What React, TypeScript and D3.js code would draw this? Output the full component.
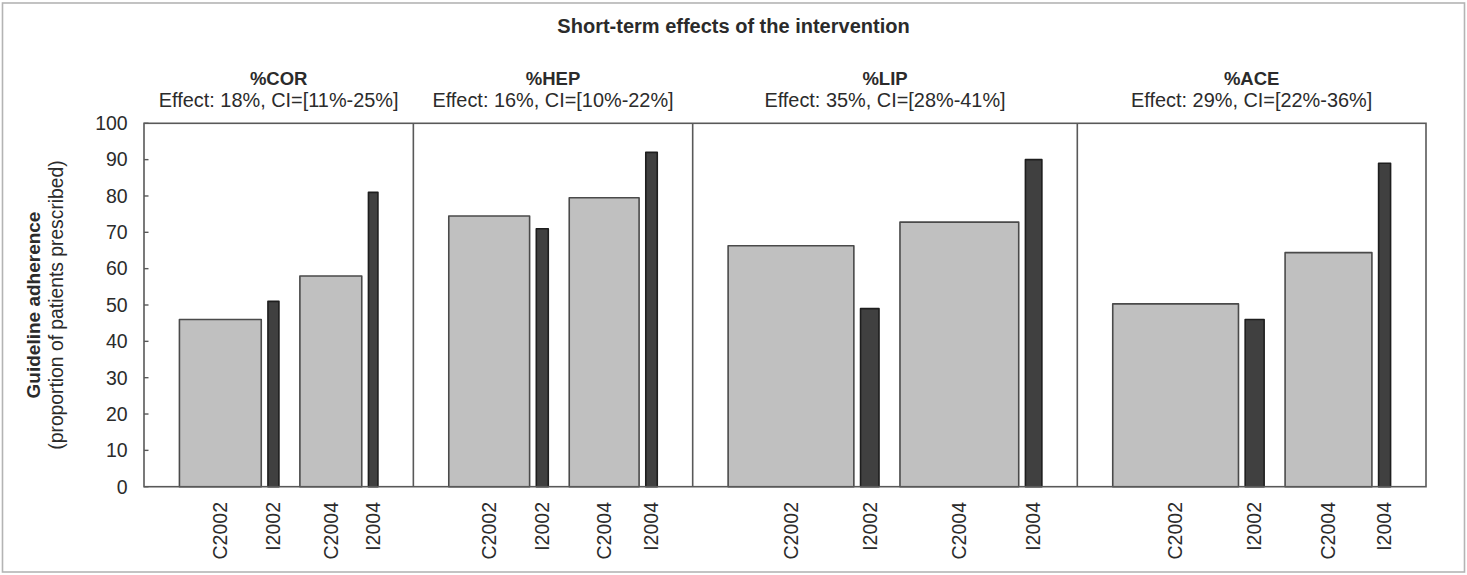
import React from "react";
import * as d3 from "d3";

// ---- data -------------------------------------------------------------
const chartTitle = "Short-term effects of the intervention";
const indicators = ["%COR", "%HEP", "%LIP", "%ACE"];
const effectLabels = [
  "Effect: 18%, CI=[11%-25%]",
  "Effect: 16%, CI=[10%-22%]",
  "Effect: 35%, CI=[28%-41%]",
  "Effect: 29%, CI=[22%-36%]",
];
const groups = ["C2002", "I2002", "C2004", "I2004"];

// adherence (% of patients prescribed) per group
const adherenceCOR = [46, 51, 58, 81];
const adherenceHEP = [74.5, 71, 79.5, 92];
const adherenceLIP = [66.3, 49, 72.8, 90];
const adherenceACE = [50.3, 46, 64.4, 89];

// relative bar widths (group size) per group
const widthCOR = [82, 11, 62, 9.5];
const widthHEP = [81, 12, 70, 11.5];
const widthLIP = [126, 18.5, 119, 16.5];
const widthACE = [126, 19, 87, 12];

const yTicks = d3.range(0, 101, 10);

const adherence = [adherenceCOR, adherenceHEP, adherenceLIP, adherenceACE];
const widths = [widthCOR, widthHEP, widthLIP, widthACE];

// ---- layout -----------------------------------------------------------
const W = 1467;
const H = 575;
const plot = { left: 144, right: 1426, top: 123.3, bottom: 486.7 };

// spacing in the same units as the bar widths
const OUTER_PAD = 35.5; // panel edge to first / last bar
const PAIR_GAP = 6.7; // control bar to intervention bar of the same year
const YEAR_GAP = 21; // between the two years

const FONT = "Arial, 'Liberation Sans', Helvetica, sans-serif";
const TEXT = "#2b2b2b";
const FRAME = "#595959";

type Bar = { panel: number; group: string; value: number; x0: number; w: number };
type Panel = { x0: number; x1: number };

function buildLayout() {
  const bars: Bar[] = [];
  const panels: Panel[] = [];
  let cursor = 0;
  widths.forEach((ws, p) => {
    const start = cursor;
    cursor += OUTER_PAD;
    ws.forEach((w, g) => {
      bars.push({ panel: p, group: groups[g], value: adherence[p][g], x0: cursor, w });
      cursor += w;
      if (g === 0 || g === 2) cursor += PAIR_GAP;
      else if (g === 1) cursor += YEAR_GAP;
    });
    cursor += OUTER_PAD;
    panels.push({ x0: start, x1: cursor });
  });
  return { bars, panels, total: cursor };
}

export default function App() {
  const { bars, panels, total } = buildLayout();
  const x = d3.scaleLinear().domain([0, total]).range([plot.left, plot.right]);
  const y = d3.scaleLinear().domain([0, 100]).range([plot.bottom, plot.top]);
  const yMid = (plot.top + plot.bottom) / 2;

  return (
    <svg
      width={W}
      height={H}
      viewBox={`0 0 ${W} ${H}`}
      style={{ position: "absolute", left: 0, top: 0, background: "#fff" }}
      fontFamily={FONT}
    >
      <rect x={0} y={0} width={W} height={H} fill="#fff" />
      {/* outer border */}
      <rect x={2.5} y={3} width={W - 5} height={H - 6} fill="none" stroke="#b4b4b4" strokeWidth={1.6} />

      <text x={W / 2} y={33} textAnchor="middle" fontSize={20} fontWeight="bold" fill={TEXT}>
        {chartTitle}
      </text>

      {/* panel headers */}
      {panels.map((p, i) => {
        const cx = (x(p.x0) + x(p.x1)) / 2;
        return (
          <g key={`hdr-${i}`}>
            <text x={cx} y={84.5} textAnchor="middle" fontSize={18.5} fontWeight="bold" fill={TEXT}>
              {indicators[i]}
            </text>
            <text x={cx} y={107} textAnchor="middle" fontSize={19.9} fill={TEXT}>
              {effectLabels[i]}
            </text>
          </g>
        );
      })}

      {/* bars */}
      {bars.map((b, i) => {
        const control = b.group.startsWith("C");
        return (
          <rect
            key={`bar-${i}`}
            x={x(b.x0)}
            y={y(b.value)}
            width={x(b.x0 + b.w) - x(b.x0)}
            height={y(0) - y(b.value)}
            fill={control ? "#c0c0c0" : "#404040"}
            stroke={control ? "#4a4a4a" : "#1e1e1e"}
            strokeWidth={1.6}
            strokeLinejoin="round"
          />
        );
      })}

      {/* frame and panel separators */}
      <rect
        x={plot.left}
        y={plot.top}
        width={plot.right - plot.left}
        height={plot.bottom - plot.top}
        fill="none"
        stroke={FRAME}
        strokeWidth={1.6}
      />
      {panels.slice(1).map((p, i) => (
        <line
          key={`sep-${i}`}
          x1={x(p.x0)}
          x2={x(p.x0)}
          y1={plot.top}
          y2={plot.bottom}
          stroke={FRAME}
          strokeWidth={1.6}
        />
      ))}

      {/* y axis */}
      {yTicks.map((t) => (
        <g key={`yt-${t}`}>
          <line x1={plot.left} x2={plot.left + 4.5} y1={y(t)} y2={y(t)} stroke={FRAME} strokeWidth={1.4} />
          <text x={127.7} y={y(t)} dy="0.35em" textAnchor="end" fontSize={19.5} fill={TEXT}>
            {t}
          </text>
        </g>
      ))}
      <text
        transform={`translate(33.5,${yMid}) rotate(-90)`}
        dy="0.35em"
        textAnchor="middle"
        fontSize={19}
        fontWeight="bold"
        fill={TEXT}
      >
        Guideline adherence
      </text>
      <text
        transform={`translate(56,${yMid}) rotate(-90)`}
        dy="0.35em"
        textAnchor="middle"
        fontSize={19.3}
        fill={TEXT}
      >
        (proportion of patients prescribed)
      </text>

      {/* x labels */}
      {bars.map((b, i) => {
        const cx = x(b.x0 + b.w / 2);
        return (
          <text
            key={`xl-${i}`}
            transform={`translate(${cx},502) rotate(-90)`}
            dy="0.35em"
            textAnchor="end"
            fontSize={19.5}
            fill={TEXT}
          >
            {b.group}
          </text>
        );
      })}
    </svg>
  );
}
